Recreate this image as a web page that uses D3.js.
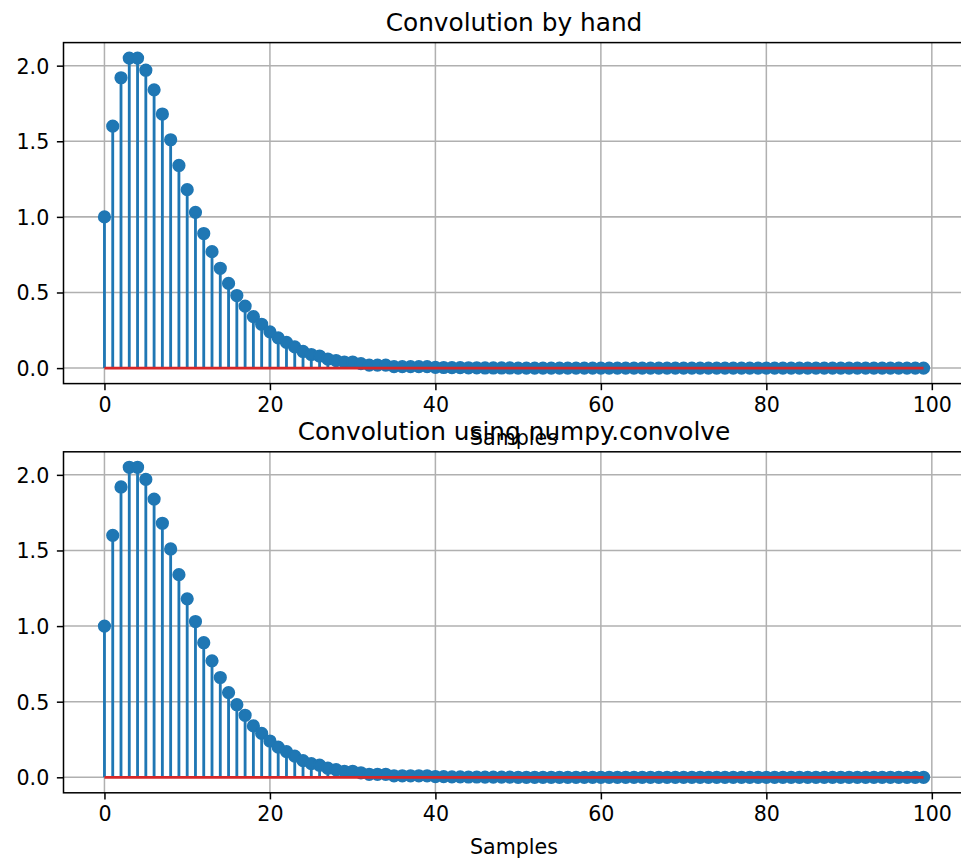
<!DOCTYPE html>
<html>
<head>
<meta charset="utf-8">
<script src="https://cdn.jsdelivr.net/npm/d3@7"></script>
<style>
	body { margin: 0; background: #fff; }
	text { font-family: "DejaVu Sans", sans-serif; fill: #000; }
</style>
</head>
<body>
<div id="chart"></div>
<script>
// Convolution output (samples 0..99).
var handConv = [
	1.00, 1.60, 1.92, 2.05, 2.05, 1.97, 1.84, 1.68, 1.51, 1.34,
	1.18, 1.03, 0.89, 0.77, 0.66, 0.56, 0.48, 0.41, 0.34, 0.29,
	0.24, 0.20, 0.17, 0.14, 0.11, 0.09, 0.08, 0.06, 0.05, 0.04,
	0.04, 0.03, 0.02, 0.02, 0.02, 0.01, 0.01, 0.01, 0.01, 0.01,
	0.005, 0.004, 0.003, 0.003, 0.002, 0.002, 0.001, 0.001, 0.001, 0.001,
	0, 0, 0, 0, 0, 0, 0, 0, 0, 0,
	0, 0, 0, 0, 0, 0, 0, 0, 0, 0,
	0, 0, 0, 0, 0, 0, 0, 0, 0, 0,
	0, 0, 0, 0, 0, 0, 0, 0, 0, 0,
	0, 0, 0, 0, 0, 0, 0, 0, 0, 0
];
// the lower panel shows the same values
var numpyConv = handConv.slice();

var titles = ["Convolution by hand", "Convolution using numpy.convolve"];
var xLabel = "Samples";
var xTicks = [0, 20, 40, 60, 80, 100];
var yTicks = [0.0, 0.5, 1.0, 1.5, 2.0];

// Figure size and points->pixels factor.
var width = 961;
var height = 859;
var pt = 1.89;
var tickFont = 20.6;
var titleFont = 24.8;

// Axes boxes (the right spine falls just outside the picture).
var axLeft = 63.5;
var axWidth = 901;
var axTops = [42.6, 451.8];
var axHeight = 341;

var blue = "#1f77b4";
var red = "#d62728";
var gridColor = "#b0b0b0";

var svg = d3.select("#chart").append("svg")
		.attr("width", width)
		.attr("height", height);

svg.append("rect")
		.attr("width", width)
		.attr("height", height)
		.attr("fill", "#fff");

drawPanel(handConv, titles[0], axTops[0]);
drawPanel(numpyConv, titles[1], axTops[1]);

// 5% padding on both ends, like matplotlib autoscale.
function padded(lo, hi) {
	var m = (hi - lo) * 0.05;
	return [lo - m, hi + m];
}

function drawPanel(values, title, top) {
	var idx = values.map(function(d, i) { return i; });

	var x = d3.scaleLinear()
			.domain(padded(0, idx.length - 1))
			.range([0, axWidth]);

	var yExt = d3.extent(values.concat([0]));
	var y = d3.scaleLinear()
			.domain(padded(yExt[0], yExt[1]))
			.range([axHeight, 0]);

	var g = svg.append("g")
			.attr("transform", "translate(" + axLeft + "," + top + ")");

	// Clip marks to the axes box.
	var clipId = "clip" + Math.round(top);
	g.append("clipPath")
			.attr("id", clipId)
		.append("rect")
			.attr("width", axWidth)
			.attr("height", axHeight);

	// Grid lines.
	g.append("g").selectAll("line.gx")
			.data(xTicks)
			.enter().append("line")
			.attr("x1", function(d) { return x(d); })
			.attr("x2", function(d) { return x(d); })
			.attr("y1", 0)
			.attr("y2", axHeight)
			.attr("stroke", gridColor)
			.attr("stroke-width", 0.8 * pt);

	g.append("g").selectAll("line.gy")
			.data(yTicks)
			.enter().append("line")
			.attr("x1", 0)
			.attr("x2", axWidth)
			.attr("y1", function(d) { return y(d); })
			.attr("y2", function(d) { return y(d); })
			.attr("stroke", gridColor)
			.attr("stroke-width", 0.8 * pt);

	var marks = g.append("g")
			.attr("clip-path", "url(#" + clipId + ")");

	// Stems.
	marks.selectAll("line.stem")
			.data(values)
			.enter().append("line")
			.attr("class", "stem")
			.attr("x1", function(d, i) { return x(i); })
			.attr("x2", function(d, i) { return x(i); })
			.attr("y1", y(0))
			.attr("y2", function(d) { return y(d); })
			.attr("stroke", blue)
			.attr("stroke-width", 1.5 * pt);

	// Markers.
	marks.selectAll("circle")
			.data(values)
			.enter().append("circle")
			.attr("cx", function(d, i) { return x(i); })
			.attr("cy", function(d) { return y(d); })
			.attr("r", 3 * pt)
			.attr("fill", blue)
			.attr("stroke", blue)
			.attr("stroke-width", 1 * pt);

	// Baseline.
	marks.append("line")
			.attr("x1", x(0))
			.attr("x2", x(idx.length - 1))
			.attr("y1", y(0))
			.attr("y2", y(0))
			.attr("stroke", red)
			.attr("stroke-width", 1.5 * pt);

	// Axes with matplotlib-like ticks.
	var xAxis = d3.axisBottom(x)
			.tickValues(xTicks)
			.tickFormat(d3.format("d"))
			.tickSize(3.5 * pt)
			.tickPadding(3.5 * pt);

	var yAxis = d3.axisLeft(y)
			.tickValues(yTicks)
			.tickFormat(d3.format(".1f"))
			.tickSize(3.5 * pt)
			.tickPadding(3.5 * pt + 1);

	var gx = g.append("g")
			.attr("transform", "translate(0," + axHeight + ")")
			.call(xAxis);
	gx.select(".domain").remove();
	gx.selectAll("line").attr("stroke", "#000").attr("stroke-width", 0.8 * pt);
	gx.selectAll("text")
			.attr("font-size", tickFont)
			.attr("dy", "0.74em");

	var gy = g.append("g").call(yAxis);
	gy.select(".domain").remove();
	gy.selectAll("line").attr("stroke", "#000").attr("stroke-width", 0.8 * pt);
	gy.selectAll("text")
			.attr("font-size", tickFont)
			.attr("dy", "0.36em");

	// Frame.
	g.append("rect")
			.attr("width", axWidth)
			.attr("height", axHeight)
			.attr("fill", "none")
			.attr("stroke", "#000")
			.attr("stroke-width", 0.8 * pt);

	// Title and x label.
	g.append("text")
			.attr("x", axWidth / 2)
			.attr("y", -6 * pt)
			.attr("text-anchor", "middle")
			.attr("font-size", titleFont)
			.text(title);

	g.append("text")
			.attr("x", axWidth / 2)
			.attr("y", axHeight + 61)
			.attr("text-anchor", "middle")
			.attr("font-size", tickFont)
			.text(xLabel);
}
</script>
</body>
</html>
